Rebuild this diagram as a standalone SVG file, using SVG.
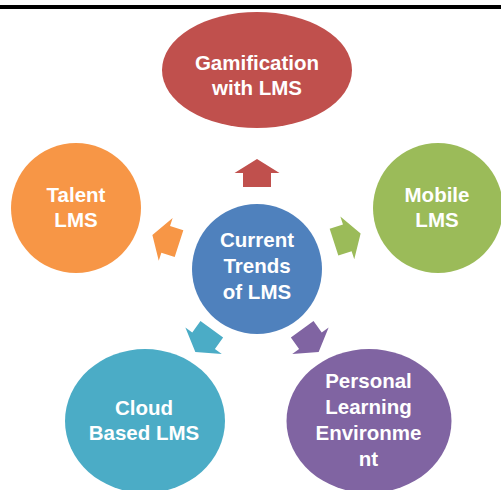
<svg xmlns="http://www.w3.org/2000/svg" width="501" height="490" viewBox="0 0 501 490">
<style>
  .lbl { font-family: "Liberation Sans", Arial, sans-serif; font-weight: bold; font-size: 20.5px; fill: #FFFFFF; text-anchor: middle; }
</style>
<defs>
  <polygon id="arrow" points="257,159 279.5,173 271,173 271,187 243,187 243,173 234.5,173"/>
</defs>
<rect x="0" y="0" width="501" height="490" fill="#FFFFFF"/>
<rect x="0" y="5" width="501" height="4" fill="#000000"/>

<g id="connectors">
  <use href="#arrow" fill="#C0504D"/>
  <use href="#arrow" fill="#9BBB59" transform="translate(-1,-1.5) rotate(72 257 269)"/>
  <use href="#arrow" fill="#8064A2" transform="translate(-3,-6) rotate(144 257 269)"/>
  <use href="#arrow" fill="#4BACC6" transform="translate(3,-6) rotate(216 257 269)"/>
  <use href="#arrow" fill="#F79646" transform="rotate(288 257 269)"/>
</g>

<g id="center">
  <circle cx="257" cy="269" r="65" fill="#4F81BD"/>
  <text class="lbl" x="257" y="247">Current</text>
  <text class="lbl" x="257" y="273">Trends</text>
  <text class="lbl" x="257" y="299">of LMS</text>
</g>

<g id="gamification">
  <ellipse cx="257" cy="70" rx="95" ry="58" fill="#C0504D"/>
  <text class="lbl" x="257" y="70">Gamification</text>
  <text class="lbl" x="257" y="95">with LMS</text>
</g>

<g id="mobile">
  <circle cx="438" cy="208" r="65" fill="#9BBB59"/>
  <text class="lbl" x="437" y="202">Mobile</text>
  <text class="lbl" x="437" y="227">LMS</text>
</g>

<g id="ple">
  <ellipse cx="369" cy="421" rx="82.5" ry="72" fill="#8064A2"/>
  <text class="lbl" x="368.5" y="388">Personal</text>
  <text class="lbl" x="368.5" y="414">Learning</text>
  <text class="lbl" x="368.5" y="440">Environme</text>
  <text class="lbl" x="368.5" y="466">nt</text>
</g>

<g id="cloud">
  <ellipse cx="145" cy="421" rx="80" ry="72" fill="#4BACC6"/>
  <text class="lbl" x="144" y="415">Cloud</text>
  <text class="lbl" x="144" y="440">Based LMS</text>
</g>

<g id="talent">
  <circle cx="76" cy="208" r="65" fill="#F79646"/>
  <text class="lbl" x="76" y="202">Talent</text>
  <text class="lbl" x="76" y="227">LMS</text>
</g>
</svg>
